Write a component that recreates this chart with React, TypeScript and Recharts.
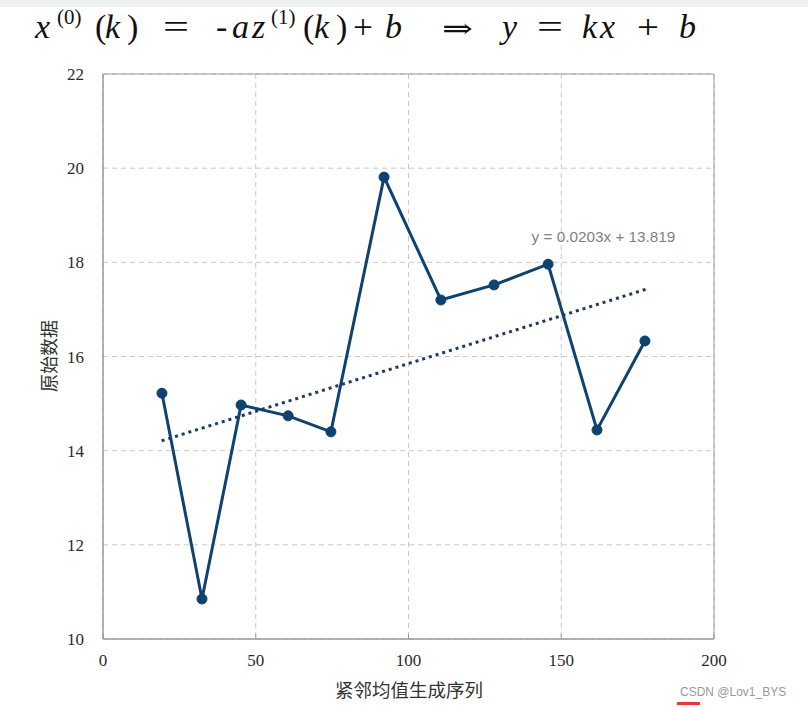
import React from 'react';
import {
  LineChart,
  Line,
  XAxis,
  YAxis,
  CartesianGrid,
  ReferenceArea,
  ReferenceDot,
} from 'recharts';

// z1(k): adjacent-mean generated sequence, x0(k): raw data
const seqValues = [19.3, 32.4, 45.2, 60.6, 74.6, 92.0, 110.6, 128.0, 145.7, 161.7, 177.4];
const rawValues = [15.22, 10.85, 14.97, 14.74, 14.4, 19.81, 17.2, 17.52, 17.96, 14.44, 16.33];

// linear trendline end points
const trendX = [19.2, 178.8];
const trendY = [14.21, 17.45];

const xTicks = [0, 50, 100, 150, 200];
const yTicks = [10, 12, 14, 16, 18, 20, 22];

const trendText = 'y = 0.0203x + 13.819';
const xTitle = '紧邻均值生成序列';
const yTitle = '原始数据';

const rawData = seqValues.map((x, i) => ({ x, y: rawValues[i] }));
const trendData = trendX.map((x, i) => ({ x, y: trendY[i] }));

const serif = '"Liberation Serif", "DejaVu Serif", serif';
const cjk = '"Noto Sans CJK SC", sans-serif';

// formula glyphs: [text, left x, italic, superscript, stretched width]
const formulaParts: [string, number, boolean, boolean, number?][] = [
  ['x', 35, true, false],
  ['(0)', 57, false, true],
  ['(', 95, false, false],
  ['k', 105, true, false],
  [')', 127, false, false],
  ['=', 163, false, false, 26],
  ['-', 216, false, false],
  ['a', 232, true, false],
  ['z', 252, true, false],
  ['(1)', 271, false, true],
  ['(', 303, false, false],
  ['k', 314, true, false],
  [')', 336, false, false],
  ['+', 353, false, false, 20],
  ['b', 385, true, false],
  ['⇒', 442, false, false, 31],
  ['y', 502, true, false],
  ['=', 537, false, false, 26],
  ['k', 582, true, false],
  ['x', 600, true, false],
  ['+', 637, false, false, 22],
  ['b', 679, true, false],
];

const Formula = () => (
  <g fill="#111">
    {formulaParts.map(([t, x, italic, sup, w], i) => (
      <text
        key={i}
        x={x}
        y={sup ? 24 : 38}
        fontFamily={t === '⇒' ? '"DejaVu Serif", serif' : serif}
        fontSize={sup ? 21 : t === '⇒' ? 28 : 34}
        fontStyle={italic ? 'italic' : 'normal'}
        textLength={w}
        lengthAdjust={w ? 'spacingAndGlyphs' : undefined}
      >
        {t}
      </text>
    ))}
  </g>
);

export default function App() {
  return (
    <div style={{ position: 'absolute', left: 0, top: 0, width: 808, height: 707, background: '#fff' }}>
      <LineChart
        width={808}
        height={707}
        margin={{ top: 74, right: 94, bottom: 28, left: 43 }}
      >
        <CartesianGrid stroke="#c9c9c9" strokeDasharray="5 4" />
        <XAxis
          dataKey="x"
          type="number"
          domain={[0, 200]}
          ticks={xTicks}
          height={40}
          stroke="#9a9a9a"
          tickSize={-5}
          tickMargin={20}
          tick={{ fill: '#2a2a2a', fontFamily: serif, fontSize: 17 }}
          allowDuplicatedCategory={false}
        />
        <YAxis
          type="number"
          domain={[10, 22]}
          ticks={yTicks}
          width={60}
          stroke="#9a9a9a"
          tickLine={false}
          tickSize={0}
          tickMargin={19}
          tick={{ fill: '#2a2a2a', fontFamily: serif, fontSize: 17 }}
        />
        <ReferenceArea x1={0} x2={200} y1={10} y2={22} fill="none" stroke="#9a9a9a" strokeWidth={1} />
        <Line
          data={trendData}
          dataKey="y"
          stroke="#1f3864"
          strokeWidth={3}
          strokeDasharray="3 4"
          dot={false}
          isAnimationActive={false}
        />
        <Line
          data={rawData}
          dataKey="y"
          stroke="#0d4271"
          strokeWidth={3}
          dot={{ r: 5, fill: '#0d4271', stroke: '#0d4271', strokeWidth: 1 }}
          isAnimationActive={false}
        />
        <ReferenceDot
          x={140.3}
          y={18.54}
          r={0}
          label={{
            value: trendText,
            position: 'right',
            offset: 0,
            fill: '#7f7f7f',
            fontSize: 15.3,
            fontFamily: '"Liberation Sans", sans-serif',
          }}
        />
      </LineChart>
      <svg
        width={808}
        height={707}
        style={{ position: 'absolute', left: 0, top: 0, pointerEvents: 'none' }}
      >
        <rect x={0} y={0} width={808} height={7} fill="#eef1f1" />
        <Formula />
        <text
          x={0}
          y={0}
          transform="translate(56,356) rotate(-90)"
          textAnchor="middle"
          fontFamily={cjk}
          fontSize={18}
          fill="#333"
        >
          {yTitle}
        </text>
        <text x={409} y={697} textAnchor="middle" fontFamily={cjk} fontSize={18.5} fill="#333">
          {xTitle}
        </text>
        <text x={680} y={696} fontFamily='"Liberation Sans", sans-serif' fontSize={12} fill="#999">
          CSDN @Lov1_BYS
        </text>
        <rect x={677} y={702} width={23} height={3} fill="#e53935" />
      </svg>
    </div>
  );
}
